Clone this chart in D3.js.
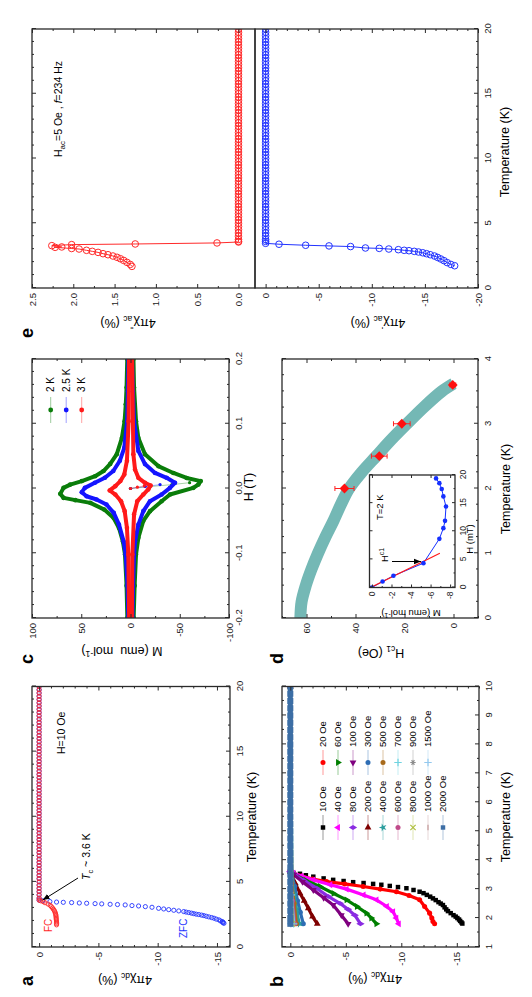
<!DOCTYPE html>
<html>
<head>
<meta charset="utf-8">
<script src="https://cdn.jsdelivr.net/npm/d3@7"></script>
<style>
  body { margin: 0; background: #fff; }
  svg { display: block; }
</style>
</head>
<body>
<div id="figure"></div>
<script>
var FONT = "'Liberation Sans', Arial, Helvetica, sans-serif";

// ---------- panel a : 4πχdc vs T, H = 10 Oe ----------
var aTempTicks = [0, 5, 10, 15, 20];
var aChiTicks = [0, -5, -10, -15];
var plateauT = [3.6, 3.75, 4, 4.25, 4.5, 4.75, 5, 5.25, 5.5, 5.75, 6, 6.25, 6.5, 6.75, 7, 7.25, 7.5, 7.75,
  8, 8.25, 8.5, 8.75, 9, 9.25, 9.5, 9.75, 10, 10.25, 10.5, 10.75, 11, 11.25, 11.5, 11.75, 12, 12.25,
  12.5, 12.75, 13, 13.25, 13.5, 13.75, 14, 14.25, 14.5, 14.75, 15, 15.25, 15.5, 15.75, 16, 16.25,
  16.5, 16.75, 17, 17.25, 17.5, 17.75, 18, 18.25, 18.5, 18.75, 19, 19.25, 19.5, 19.75, 20];
var plateauValue = 0;
var aFC = [[1.7, -1.47], [1.8, -1.47], [1.9, -1.47], [2.0, -1.46], [2.1, -1.45], [2.2, -1.44], [2.3, -1.43],
  [2.4, -1.42], [2.5, -1.4], [2.6, -1.37], [2.7, -1.33], [2.8, -1.28], [2.9, -1.21], [3.0, -1.13],
  [3.1, -1.03], [3.2, -0.93], [3.3, -0.75], [3.4, -0.5], [3.48, -0.34], [3.55, -0.12]];
var aZFC = [[1.82, -15.59], [1.86, -15.52], [1.9, -15.5], [1.95, -15.45], [2.0, -15.3], [2.08, -15.17],
  [2.14, -14.95], [2.21, -14.75], [2.26, -14.55], [2.31, -14.32], [2.36, -14.1], [2.41, -13.9],
  [2.45, -13.7], [2.49, -13.47], [2.52, -13.25], [2.56, -13.05], [2.6, -12.85], [2.64, -12.63],
  [2.68, -12.4], [2.72, -12.2], [2.77, -11.78], [2.82, -11.36], [2.87, -10.93], [2.92, -10.51],
  [2.97, -10.08], [3.05, -9.52], [3.1, -8.96], [3.15, -8.39], [3.18, -7.83], [3.23, -7.26],
  [3.26, -6.61], [3.28, -5.99], [3.31, -5.28], [3.33, -4.72], [3.36, -4.01], [3.38, -3.39],
  [3.41, -2.74], [3.43, -2.04], [3.45, -1.47], [3.49, -0.91], [3.55, -0.3]];

// ---------- panel b : 4πχdc vs T for several fields ----------
var bTempTicks = [1, 2, 3, 4, 5, 6, 7, 8, 9, 10];
var bChiTicks = [0, -5, -10, -15];
var bFields = ["10 Oe", "20 Oe", "40 Oe", "60 Oe", "80 Oe", "100 Oe", "200 Oe", "300 Oe", "400 Oe",
  "500 Oe", "600 Oe", "700 Oe", "800 Oe", "900 Oe", "1000 Oe", "1500 Oe", "2000 Oe"];
var b10 = [[1.81, -15.5], [1.85, -15.42], [1.9, -15.3], [1.95, -15.2], [2.0, -15.05], [2.05, -14.9],
  [2.1, -14.7], [2.17, -14.45], [2.24, -14.2], [2.3, -14.05], [2.37, -13.9], [2.45, -13.75],
  [2.5, -13.55], [2.55, -13.35], [2.62, -13.1], [2.68, -12.85], [2.74, -12.6], [2.8, -12.3],
  [2.86, -12.0], [2.91, -11.65], [2.97, -11.1], [3.03, -10.46], [3.07, -9.7], [3.11, -8.96],
  [3.15, -8.2], [3.18, -7.46], [3.21, -6.6], [3.24, -5.66], [3.28, -4.8], [3.32, -3.86],
  [3.37, -3.0], [3.43, -2.07], [3.48, -1.4], [3.53, -0.87], [3.56, -0.27], [3.6, 0], [10, 0]];
var b20 = [[1.8, -13.0], [1.88, -12.85], [2.0, -12.75], [2.17, -12.55], [2.4, -12.1], [2.63, -11.65],
  [2.78, -10.7], [2.91, -9.56], [3.0, -8.1], [3.09, -6.56], [3.18, -4.9], [3.26, -3.27],
  [3.35, -2.0], [3.45, -1.0], [3.55, -0.27], [3.6, 0], [10, 0]];
var b40 = [[1.8, -9.77], [2.0, -9.55], [2.22, -9.26], [2.4, -8.7], [2.63, -7.76], [2.8, -6.6],
  [3.0, -5.07], [3.15, -3.6], [3.32, -2.07], [3.45, -1.0], [3.55, -0.27], [3.6, 0], [10, 0]];
var b60 = [[1.8, -7.76], [2.0, -7.3], [2.17, -6.86], [2.4, -6.0], [2.63, -5.07], [2.85, -3.9],
  [3.09, -2.67], [3.3, -1.4], [3.5, -0.4], [3.6, 0], [10, 0]];
var b80 = [[1.8, -6.32], [2.1, -5.81], [2.3, -5.2], [2.51, -4.47], [2.75, -3.4], [3.03, -2.37],
  [3.3, -1.2], [3.5, -0.35], [3.6, 0], [10, 0]];
var b100 = [[1.8, -5.21], [2.1, -4.6], [2.45, -3.86], [2.7, -3.0], [2.97, -2.07], [3.25, -1.1],
  [3.5, -0.3], [3.6, 0], [10, 0]];
var b200 = [[1.8, -2.43], [2.05, -2.0], [2.34, -1.62], [2.6, -1.25], [2.86, -0.87], [3.2, -0.45],
  [3.5, -0.1], [3.6, 0], [10, 0]];
var b300 = [[1.8, -1.17], [2.2, -0.9], [2.6, -0.65], [3.1, -0.4], [3.5, -0.1], [10, 0]];
var b400 = [[1.8, -0.8], [2.3, -0.55], [2.8, -0.35], [3.3, -0.15], [10, 0]];
var b500 = [[1.8, -0.55], [2.5, -0.35], [3.2, -0.12], [10, 0]];
var b600 = [[1.8, -0.4], [2.6, -0.2], [3.2, -0.05], [10, 0]];
var b700 = [[1.8, -0.3], [2.8, -0.1], [10, 0]];
var b800 = [[1.8, -0.2], [2.8, -0.05], [10, 0]];
var b900 = [[1.8, -0.15], [10, 0]];
var b1000 = [[1.8, -0.1], [10, 0]];
var b1500 = [[1.8, -0.05], [10, 0]];
var b2000T = [1.8, 2, 2.25, 2.5, 2.75, 3, 3.25, 3.5, 3.75, 4, 4.25, 4.5, 4.75, 5, 5.25, 5.5, 5.75, 6,
  6.25, 6.5, 6.75, 7, 7.25, 7.5, 7.75, 8, 8.25, 8.5, 8.75, 9, 9.25, 9.5, 9.75, 10];
var b2000 = b2000T.map(function (t) { return [t, plateauValue]; });
var bSeries = [b10, b20, b40, b60, b80, b100, b200, b300, b400, b500, b600, b700, b800, b900, b1000, b1500, b2000];
var bColors = ["#000000", "#ff0000", "#ff00ff", "#007f00", "#8a2be2", "#7f007f", "#7f0000", "#2e6db4",
  "#2a9d9d", "#a86a1a", "#c04a8a", "#6fd3e0", "#b0c040", "#8c8c8c", "#c49a9a", "#93c8ee", "#3c6ea5"];
var bSymbols = ["square", "circle", "triUp", "triDown", "diamond", "triLeft", "triRight", "circle", "star",
  "circle", "circle", "plus", "times", "asterisk", "dash", "plus", "square"];

// ---------- panel c : M vs H loops ----------
var cHTicks = [-0.2, -0.1, 0, 0.1, 0.2];
var cMTicks = [100, 50, 0, -50, -100];
var cTemps = ["2 K", "2.5 K", "3 K"];
var cDown2 = [[0.2, 3.3], [0.156, 4.0], [0.13, 4.8], [0.104, 6.0], [0.078, 8.8], [0.053, 13.9], [0.038, 20.6],
  [0.027, 27.4], [0.019, 35.9], [0.0114, 49.4], [0.006, 61.2], [0.001, 68], [-0.0083, 71.3], [-0.0145, 67.9],
  [-0.018, 56], [-0.0222, 40.8], [-0.0326, 26.6], [-0.0455, 17.1], [-0.061, 11.7], [-0.082, 7.7],
  [-0.102, 5.6], [-0.15, 4.0], [-0.2, 3.2]];
var cUp2 = [[-0.2, -3.2], [-0.15, -4.2], [-0.102, -5.6], [-0.076, -8], [-0.05, -13], [-0.035, -19.8],
  [-0.0196, -31.6], [-0.0093, -40.1], [0.001, -63.8], [0.0062, -68.9], [0.0114, -71.3], [0.0163, -57],
  [0.024, -43.5], [0.0346, -28.2], [0.053, -14.7], [0.078, -8], [0.104, -5.6], [0.156, -3.6], [0.2, -3]];
var cVirgin2 = [[0, 0], [0.003, -20], [0.006, -42], [0.009, -60]];
var cDown25 = [[0.2, 2.1], [0.15, 2.6], [0.104, 3.4], [0.0625, 6.4], [0.0429, 10.8], [0.027, 17.5],
  [0.0165, 26], [0.0088, 36.2], [0.001, 46.3], [-0.0057, 49.5], [-0.012, 44.6], [-0.017, 34.5],
  [-0.0248, 24.4], [-0.0377, 17], [-0.0558, 11.7], [-0.082, 6.9], [-0.102, 4.9], [-0.15, 3.0], [-0.2, 2.2]];
var cUp25 = [[-0.2, -2.0], [-0.15, -2.6], [-0.102, -3.6], [-0.082, -4.6], [-0.0558, -8], [-0.035, -13],
  [-0.0196, -19.8], [-0.0093, -31.6], [0.001, -40.1], [0.0088, -45.2], [0.0165, -36.7], [0.024, -24.9],
  [0.0377, -14.7], [0.058, -8], [0.104, -3.6], [0.15, -2.4], [0.2, -1.6]];
var cVirgin25 = [[0, 0], [0.003, -15], [0.006, -30]];
var cDown3 = [[0.2, 1.5], [0.104, 1.9], [0.0429, 3.6], [0.0217, 6.3], [0.0114, 10.3], [0.0036, 15.4],
  [-0.003, 21.1], [-0.0093, 15.4], [-0.0196, 9.6], [-0.035, 5.9], [-0.061, 3.6], [-0.102, 2.2], [-0.2, 1.4]];
var cUp3 = [[-0.2, -1.4], [-0.102, -1.9], [-0.04, -3.6], [-0.0196, -6.9], [-0.0093, -13], [-0.0015, -18],
  [0.0046, -20.4], [0.0088, -14.7], [0.0165, -8], [0.0294, -4.6], [0.053, -2.9], [0.2, -1.6]];
var cVirgin3 = [[0, 0], [0.002, -7], [0.004, -14]];
var cColors = ["#0a7d0a", "#1414ff", "#ff1a1a"];

// ---------- panel d : Hc1 vs T, inset M vs H at 2 K ----------
var dTempTicks = [0, 1, 2, 3, 4];
var dHcTicks = [60, 40, 20, 0];
var dBand = [[0, 62.5], [0.25, 62], [0.5, 60.3], [0.75, 58], [1, 55.3], [1.25, 52.3], [1.5, 49], [1.75, 46],
  [2, 42.6], [2.25, 37.5], [2.5, 31.5], [2.75, 25.5], [3, 19], [3.25, 12.3], [3.5, 4.8], [3.62, 0]];
var dHc1 = [[2, 44.5, 3.9], [2.5, 30.3, 3.2], [3, 21.1, 3.4], [3.6, 0.3, 1.2]];  // T, Hc1, error
var insetHTicks = [0, 5, 10, 15, 20];
var insetMTicks = [0, -2, -4, -6, -8];
var insetM = [[0, 0], [1.07, -1.09], [2.08, -2.2], [4.33, -5.27], [8.65, -6.9], [10.55, -7.31],
  [11.85, -7.48], [14.4, -7.58], [16.2, -7.31], [17.5, -7.14], [18.55, -6.9], [19.4, -6.56]];
var insetFit = [[-0.1, 0.25], [6.1, -6.95]];

// ---------- panel e : ac susceptibility ----------
var eTempTicks = [0, 5, 10, 15, 20];
var eChi2Ticks = [0, 0.5, 1, 1.5, 2, 2.5];
var eChi1Ticks = [0, -5, -10, -15, -20];
var eChi2 = [[1.67, 1.29], [1.82, 1.31], [1.98, 1.35], [2.13, 1.39], [2.26, 1.43], [2.37, 1.47], [2.47, 1.52],
  [2.57, 1.58], [2.65, 1.64], [2.75, 1.7], [2.83, 1.77], [2.91, 1.84], [3.01, 1.93], [3.05, 2.02],
  [3.14, 2.22], [3.17, 2.14], [3.27, 2.26], [3.35, 2.02], [3.4, 1.25], [3.48, 0.26], [3.55, 0]];
var eChi1 = [[1.72, -17.8], [1.82, -17.45], [1.96, -17.1], [2.11, -16.8], [2.24, -16.5], [2.36, -16.2],
  [2.47, -15.9], [2.57, -15.5], [2.65, -15.15], [2.72, -14.8], [2.78, -14.4], [2.83, -14.0], [2.88, -13.5],
  [2.91, -13.05], [2.96, -12.5], [3.01, -11.6], [3.06, -10.7], [3.09, -9.4], [3.2, -8.0], [3.25, -5.97],
  [3.3, -3.77], [3.38, -1.26], [3.45, 0]];

// ====================================================================
var svg = d3.select("#figure").append("svg").attr("width", 532).attr("height", 997);
var defs = svg.append("defs");
defs.append("marker").attr("id", "arrow").attr("viewBox", "0 0 10 10")
  .attr("refX", 10).attr("refY", 5).attr("markerWidth", 7).attr("markerHeight", 7)
  .attr("markerUnits", "userSpaceOnUse").attr("orient", "auto")
  .append("path").attr("d", "M0,1L10,5L0,9z").attr("fill", "#000");

// the figure is laid out landscape (997 x 532) and turned a quarter turn
var fig = svg.append("g").attr("transform", "translate(0,997) rotate(-90)")
  .attr("font-family", FONT);

function addAxis(g, gen, off, vals, len, fmt, pad, vertical) {
  gen.tickValues(vals).tickSizeInner(-len).tickSizeOuter(0).tickPadding(pad || 3)
    .tickFormat(fmt || function () { return ""; });
  var a = g.append("g")
    .attr("transform", vertical ? "translate(" + off + ",0)" : "translate(0," + off + ")")
    .call(gen);
  a.attr("font-family", FONT).attr("font-size", 9.5);
  a.select(".domain").remove();
  a.selectAll(".tick line").attr("stroke", "#2a2a2a").attr("stroke-width", 1);
  a.selectAll(".tick text").attr("fill", "#1a1a1a");
  return a;
}
function ticksX(g, x, h, major, minor, fmt) {
  addAxis(g, d3.axisBottom(x), h, major, 4, fmt, 6);
  addAxis(g, d3.axisBottom(x), h, minor, 2);
  addAxis(g, d3.axisTop(x), 0, major, 4);
  addAxis(g, d3.axisTop(x), 0, minor, 2);
}
function ticksY(g, y, w, major, minor, fmt) {
  addAxis(g, d3.axisLeft(y), 0, major, 4, fmt, 5, true);
  addAxis(g, d3.axisLeft(y), 0, minor, 2, null, 3, true);
  addAxis(g, d3.axisRight(y), w, major, 4, null, 3, true);
  addAxis(g, d3.axisRight(y), w, minor, 2, null, 3, true);
}
function frame(g, y0, w, h) {
  g.append("rect").attr("x", 0).attr("y", y0).attr("width", w).attr("height", h)
    .attr("fill", "none").attr("stroke", "#2a2a2a").attr("stroke-width", 1.3);
}
var clipCount = 0;
function clipped(g, w, h) {
  var id = "clip" + (clipCount++);
  defs.append("clipPath").attr("id", id).append("rect").attr("width", w).attr("height", h);
  return g.append("g").attr("clip-path", "url(#" + id + ")");
}
function plain(d) { return String(d); }
function oneDec(d) { return d.toFixed(1); }
function panelLetter(x, y, s) {
  fig.append("text").attr("x", x).attr("y", y).attr("font-size", 18).attr("font-weight", "bold").text(s);
}
function xTitle(x, y, s) {
  fig.append("text").attr("x", x).attr("y", y).attr("text-anchor", "middle").attr("font-size", 12.5).text(s);
}
function yTitle(x, y) {
  return fig.append("text").attr("transform", "translate(" + x + "," + y + ") rotate(-90)")
    .attr("text-anchor", "middle").attr("font-size", 12.5);
}
var dashSymbol = { draw: function (ctx, size) { var r = Math.sqrt(size) / 1.6; ctx.moveTo(-r, 0); ctx.lineTo(r, 0); } };
var symTypes = {
  square: d3.symbolSquare, circle: d3.symbolCircle, triUp: d3.symbolTriangle, triDown: d3.symbolTriangle,
  triLeft: d3.symbolTriangle, triRight: d3.symbolTriangle, diamond: d3.symbolDiamond, star: d3.symbolStar,
  plus: d3.symbolPlus || d3.symbolCross, times: d3.symbolTimes || d3.symbolCross,
  asterisk: d3.symbolAsterisk || d3.symbolStar, dash: dashSymbol
};
var symRot = { triDown: 180, triLeft: -90, triRight: 90 };
var strokeSym = { plus: 1, times: 1, asterisk: 1, dash: 1 };
function drawSymbol(sel, name, color, size) {
  sel.attr("d", d3.symbol().type(symTypes[name]).size(size)())
    .attr("fill", strokeSym[name] ? "none" : color)
    .attr("stroke", strokeSym[name] ? color : "none")
    .attr("stroke-width", 1.2);
}

// ---------------- panel a ----------------
var wA = 260.5, hA = 198;
var ga = fig.append("g").attr("transform", "translate(50,32)");
var xa = d3.scaleLinear().domain([0, 20]).range([0, wA]);
var ya = d3.scaleLinear().domain([0.6, -16.1]).range([0, hA]);
var pa = clipped(ga, wA, hA);
var aZFCall = aZFC.concat(plateauT.map(function (t) { return [t, plateauValue]; }));
var aFCall = aFC.concat(plateauT.map(function (t) { return [t, plateauValue]; }));
[[aZFCall, "#2233ff"], [aFCall, "#ff2a2a"]].forEach(function (s) {
  pa.selectAll(null).data(s[0]).enter().append("circle")
    .attr("cx", function (d) { return xa(d[0]); }).attr("cy", function (d) { return ya(d[1]); })
    .attr("r", 2.1).attr("fill", "none").attr("stroke", s[1]).attr("stroke-width", 0.9);
});
ticksX(ga, xa, hA, aTempTicks, d3.range(0, 21).filter(function (v) { return v % 5; }), plain);
ticksY(ga, ya, wA, aChiTicks, d3.range(0, -17, -1).filter(function (v) { return v % 5; }), plain);
frame(ga, 0, wA, hA);
var tcText = ga.append("text").attr("x", 67).attr("y", 58).attr("font-size", 10.5);
tcText.append("tspan").attr("font-style", "italic").text("T");
tcText.append("tspan").attr("dy", 3).attr("font-size", 7.5).text("c");
tcText.append("tspan").attr("dy", -3).text(" ~ 3.6 K");
ga.append("line").attr("x1", 69).attr("y1", 46).attr("x2", xa(3.6)).attr("y2", ya(-0.3))
  .attr("stroke", "#000").attr("stroke-width", 1).attr("marker-end", "url(#arrow)");
ga.append("text").attr("x", 15).attr("y", 20).attr("font-size", 10).attr("fill", "#ff2a2a").text("FC");
ga.append("text").attr("x", 9).attr("y", 155).attr("font-size", 10).attr("fill", "#2233ff").text("ZFC");
ga.append("text").attr("x", 193).attr("y", 33).attr("font-size", 10.5).text("H=10 Oe");
xTitle(180, 256, "Temperature (K)");
var ta = yTitle(21, 125);
ta.append("tspan").text("4πχ");
ta.append("tspan").attr("dy", 3).attr("font-size", 8.5).text("dc");
ta.append("tspan").attr("dy", -3).text(" (%)");
panelLetter(11, 33, "a");

// ---------------- panel b ----------------
var wB = 260.5, hB = 197;
var gb = fig.append("g").attr("transform", "translate(50,282)");
var xb = d3.scaleLinear().domain([1, 10]).range([0, wB]);
var yb = d3.scaleLinear().domain([0.75, -17]).range([0, hB]);
var pb = clipped(gb, wB, hB);
var lineB = d3.line().x(function (d) { return xb(d[0]); }).y(function (d) { return yb(d[1]); });
bSeries.forEach(function (s, i) {
  var lw = i === 0 ? 0 : (i === 16 ? 5 : 3.2);
  if (lw) {
    pb.append("path").datum(s).attr("d", lineB).attr("fill", "none")
      .attr("stroke", bColors[i]).attr("stroke-width", lw).attr("stroke-linejoin", "round");
  }
  pb.selectAll(null).data(s).enter().append("path")
    .attr("transform", function (d) {
      return "translate(" + xb(d[0]) + "," + yb(d[1]) + ") rotate(" + (symRot[bSymbols[i]] || 0) + ")";
    })
    .each(function () { drawSymbol(d3.select(this), bSymbols[i], bColors[i], i === 16 ? 36 : 20); });
});
ticksX(gb, xb, hB, bTempTicks, d3.range(1.5, 10, 1), plain);
ticksY(gb, yb, wB, bChiTicks, d3.range(0, -18, -1).filter(function (v) { return v % 5; }), plain);
frame(gb, 0, wB, hB);
bFields.forEach(function (f, i) {
  var col = i % 2, row = Math.floor(i / 2);
  var lx = col ? 184.5 : 119.5, ly = 41 + 15 * row;
  var lg = gb.append("g").attr("transform", "translate(" + lx + "," + ly + ")");
  lg.append("line").attr("x1", -12.5).attr("x2", 12.5).attr("stroke", bColors[i])
    .attr("stroke-opacity", 0.4).attr("stroke-width", 1);
  lg.append("path").attr("transform", "rotate(" + (symRot[bSymbols[i]] || 0) + ")")
    .call(drawSymbol, bSymbols[i], bColors[i], 20);
  lg.append("text").attr("x", 15.5).attr("dy", "0.35em").attr("font-size", 9.5).text(f);
});
xTitle(180, 510, "Temperature (K)");
var tb = yTitle(22, 375);
tb.append("tspan").text("4πχ");
tb.append("tspan").attr("dy", 3).attr("font-size", 8.5).text("dc");
tb.append("tspan").attr("dy", -3).text(" (%)");
panelLetter(10, 283, "b");

// ---------------- panel c ----------------
var wC = 259, hC = 197;
var gc = fig.append("g").attr("transform", "translate(379,32)");
var xc = d3.scaleLinear().domain([-0.2, 0.2]).range([0, wC]);
var yc = d3.scaleLinear().domain([100, -100]).range([0, hC]);
var pc = clipped(gc, wC, hC);
var lineC = d3.line().x(function (d) { return xc(d[0]); }).y(function (d) { return yc(d[1]); });
[[cDown2, cUp2, cVirgin2], [cDown25, cUp25, cVirgin25], [cDown3, cUp3, cVirgin3]].forEach(function (set, i) {
  pc.append("path").datum(set[2]).attr("d", lineC).attr("fill", "none")
    .attr("stroke", cColors[i]).attr("stroke-opacity", 0.45).attr("stroke-width", 0.8);
  pc.selectAll(null).data(set[2]).enter().append("circle")
    .attr("cx", function (d) { return xc(d[0]); }).attr("cy", function (d) { return yc(d[1]); })
    .attr("r", 1.6).attr("fill", cColors[i]);
  [set[0], set[1]].forEach(function (br) {
    pc.append("path").datum(br).attr("d", lineC).attr("fill", "none")
      .attr("stroke", cColors[i]).attr("stroke-width", 4).attr("stroke-linejoin", "round");
    pc.selectAll(null).data(br).enter().append("circle")
      .attr("cx", function (d) { return xc(d[0]); }).attr("cy", function (d) { return yc(d[1]); })
      .attr("r", 2.3).attr("fill", cColors[i]);
  });
});
ticksX(gc, xc, hC, cHTicks, d3.range(-0.18, 0.2, 0.02).filter(function (v) { return Math.abs(Math.round(v * 50)) % 5; }), oneDec);
ticksY(gc, yc, wC, cMTicks, [75, 25, -25, -75], plain);
frame(gc, 0, wC, hC);
cTemps.forEach(function (t, i) {
  var lg = gc.append("g").attr("transform", "translate(208," + (18.7 + 15.5 * i) + ")");
  lg.append("line").attr("x1", -13).attr("x2", 13).attr("stroke", cColors[i])
    .attr("stroke-opacity", 0.4).attr("stroke-width", 1);
  lg.append("circle").attr("r", 2.4).attr("fill", cColors[i]);
  lg.append("text").attr("x", 18).attr("dy", "0.35em").attr("font-size", 10).text(t);
});
xTitle(510, 253, "H (T)");
var tc = yTitle(350, 122);
tc.append("tspan").text("M (emu\u00a0\u00a0mol");
tc.append("tspan").attr("dy", -4).attr("font-size", 8.5).text("-1");
tc.append("tspan").attr("dy", 4).text(")");
panelLetter(333, 33, "c");

// ---------------- panel d ----------------
var wD = 259, hD = 196;
var gd = fig.append("g").attr("transform", "translate(379,282)");
var xd = d3.scaleLinear().domain([0, 4]).range([0, wD]);
var yd = d3.scaleLinear().domain([70, -10]).range([0, hD]);
var pd = clipped(gd, wD, hD);
pd.append("path").datum(dBand)
  .attr("d", d3.line().curve(d3.curveCatmullRom).x(function (d) { return xd(d[0]); }).y(function (d) { return yd(d[1]); }))
  .attr("fill", "none").attr("stroke", "#74b8b5").attr("stroke-width", 12);
var eb = pd.selectAll(null).data(dHc1).enter().append("g")
  .attr("transform", function (d) { return "translate(" + xd(d[0]) + ",0)"; });
eb.append("line").attr("y1", function (d) { return yd(d[1] + d[2]); }).attr("y2", function (d) { return yd(d[1] - d[2]); })
  .attr("stroke", "#ff2020").attr("stroke-width", 1);
eb.append("line").attr("x1", -2.5).attr("x2", 2.5).attr("y1", function (d) { return yd(d[1] + d[2]); })
  .attr("y2", function (d) { return yd(d[1] + d[2]); }).attr("stroke", "#ff2020");
eb.append("line").attr("x1", -2.5).attr("x2", 2.5).attr("y1", function (d) { return yd(d[1] - d[2]); })
  .attr("y2", function (d) { return yd(d[1] - d[2]); }).attr("stroke", "#ff2020");
eb.append("path").attr("d", d3.symbol().type(d3.symbolSquare).size(48)())
  .attr("transform", function (d) { return "translate(0," + yd(d[1]) + ") rotate(45)"; })
  .attr("fill", "#ff1010");
ticksX(gd, xd, hD, dTempTicks, d3.range(0.25, 4, 0.25).filter(function (v) { return v % 1; }), plain);
ticksY(gd, yd, wD, dHcTicks, [70, 50, 30, 10, -10], plain);
frame(gd, 0, wD, hD);

// inset
var wI = 112.5, hI = 85.5;
var gi = gd.append("g").attr("transform", "translate(30.5,87.5)");
gi.append("rect").attr("width", wI).attr("height", hI).attr("fill", "#fff");
var xi = d3.scaleLinear().domain([0, 20]).range([0, wI]);
var yi = d3.scaleLinear().domain([0.25, -8.5]).range([0, hI]);
var pi = clipped(gi, wI, hI);
var lineI = d3.line().x(function (d) { return xi(d[0]); }).y(function (d) { return yi(d[1]); });
pi.append("path").datum(insetM).attr("d", lineI).attr("fill", "none").attr("stroke", "#1530ff").attr("stroke-width", 1);
pi.append("path").datum(insetFit).attr("d", lineI).attr("fill", "none").attr("stroke", "#ff1a1a").attr("stroke-width", 1.2);
pi.selectAll(null).data(insetM).enter().append("circle")
  .attr("cx", function (d) { return xi(d[0]); }).attr("cy", function (d) { return yi(d[1]); })
  .attr("r", 2.3).attr("fill", "#1530ff");
[[d3.axisBottom(xi), hI, insetHTicks, false], [d3.axisTop(xi), 0, insetHTicks, false],
 [d3.axisLeft(yi), 0, insetMTicks, true], [d3.axisRight(yi), wI, insetMTicks, true]].forEach(function (a, k) {
  var ax = addAxis(gi, a[0], a[1], a[2], 3, k === 0 || k === 2 ? plain : null, k === 0 ? 5 : 4, a[3]);
  ax.attr("font-size", 8.5);
});
addAxis(gi, d3.axisBottom(xi), hI, [2.5, 7.5, 12.5, 17.5], 1.5);
addAxis(gi, d3.axisLeft(yi), 0, [-1, -3, -5, -7], 1.5, null, 3, true);
frame(gi, 0, wI, hI);
gi.append("text").attr("x", 67.5).attr("y", 13.5).attr("font-size", 9.5).text("T=2 K");
var hcT = gi.append("text").attr("x", 25.5).attr("y", 18.5).attr("font-size", 9.5);
hcT.append("tspan").text("H");
hcT.append("tspan").attr("dy", -4).attr("font-size", 7).text("c1");
gi.append("line").attr("x1", 26).attr("y1", 22.5).attr("x2", 26).attr("y2", yi(-5.27) - 2.5)
  .attr("stroke", "#000").attr("stroke-width", 1).attr("marker-end", "url(#arrow)");
gi.append("text").attr("x", 48.5).attr("y", 103.5).attr("text-anchor", "middle").attr("font-size", 9.5).text("H (mT)");
var tiy = gi.append("text").attr("transform", "translate(-22.5,41.5) rotate(-90)")
  .attr("text-anchor", "middle").attr("font-size", 9.5);
tiy.append("tspan").text("M (emu mol");
tiy.append("tspan").attr("dy", -3).attr("font-size", 7).text("-1");
tiy.append("tspan").attr("dy", 3).text(")");
xTitle(508, 510, "Temperature (K)");
var td = yTitle(348, 381);
td.append("tspan").text("H");
td.append("tspan").attr("dy", 3).attr("font-size", 8.5).text("c1");
td.append("tspan").attr("dy", -3).text(" (Oe)");
panelLetter(333, 283, "d");

// ---------------- panel e ----------------
var wE = 259, hE1 = 223, hE = 446;
var ge = fig.append("g").attr("transform", "translate(709,32)");
var xe = d3.scaleLinear().domain([0, 20]).range([0, wE]);
var ye2 = d3.scaleLinear().domain([2.5, -0.2]).range([0, hE1]);
var ye1 = d3.scaleLinear().domain([1, -20]).range([hE1, hE]);
var pe = clipped(ge, wE, hE);
[[eChi2, ye2, "#ff2a2a"], [eChi1, ye1, "#2233ff"]].forEach(function (s) {
  var pts = s[0].concat(plateauT.map(function (t) { return [t, plateauValue]; }));
  var y = s[1];
  pe.append("path").datum(pts)
    .attr("d", d3.line().x(function (d) { return xe(d[0]); }).y(function (d) { return y(d[1]); }))
    .attr("fill", "none").attr("stroke", s[2]).attr("stroke-width", 1);
  pe.selectAll(null).data(pts).enter().append("circle")
    .attr("cx", function (d) { return xe(d[0]); }).attr("cy", function (d) { return y(d[1]); })
    .attr("r", 3.3).attr("fill", "none").attr("stroke", s[2]).attr("stroke-width", 1);
});
ticksX(ge, xe, hE, eTempTicks, d3.range(0, 21).filter(function (v) { return v % 5; }), plain);
ticksY(ge, ye2, wE, eChi2Ticks, [0.25, 0.75, 1.25, 1.75, 2.25], oneDec);
ticksY(ge, ye1, wE, eChi1Ticks, d3.range(0, -21, -1).filter(function (v) { return v % 5; }), plain);
frame(ge, 0, wE, hE1);
frame(ge, hE1, wE, hE - hE1);
var hac = ge.append("text").attr("x", 131).attr("y", 30).attr("font-size", 10.5);
hac.append("tspan").text("H");
hac.append("tspan").attr("dy", 3).attr("font-size", 8).text("ac");
hac.append("tspan").attr("dy", -3).text("=5 Oe , ");
hac.append("tspan").attr("font-style", "italic").text("f");
hac.append("tspan").text("=234 Hz");
xTitle(845, 509, "Temperature (K)");
var te2 = yTitle(678, 128);
te2.append("tspan").text("4πχ");
te2.append("tspan").attr("dy", -4).attr("font-size", 8.5).text("''");
te2.append("tspan").attr("dy", 7).attr("dx", -2).attr("font-size", 8.5).text("ac");
te2.append("tspan").attr("dy", -3).text(" (%)");
var te1 = yTitle(678, 378);
te1.append("tspan").text("4πχ");
te1.append("tspan").attr("dy", -4).attr("font-size", 8.5).text("'");
te1.append("tspan").attr("dy", 7).attr("dx", -1).attr("font-size", 8.5).text("ac");
te1.append("tspan").attr("dy", -3).text(" (%)");
panelLetter(659, 33, "e");
</script>
</body>
</html>
